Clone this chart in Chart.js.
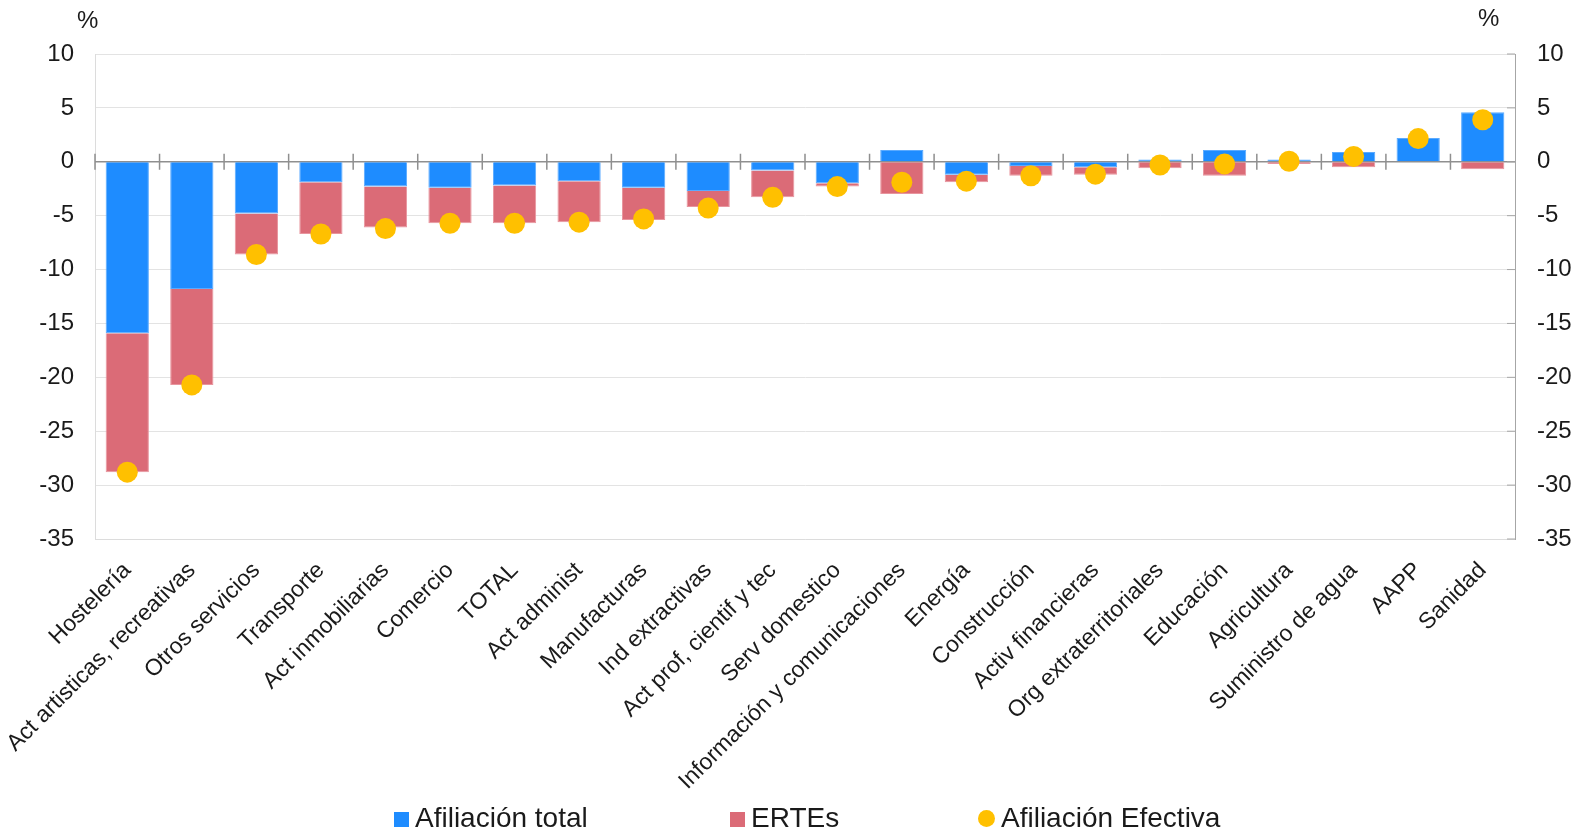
<!DOCTYPE html>
<html>
<head>
<meta charset="utf-8">
<script src="https://cdn.jsdelivr.net/npm/chart.js@4.4.1/dist/chart.umd.min.js"></script>
<style>
  html, body { margin: 0; padding: 0; background: #fff; }
  #wrap { position: relative; width: 1585px; height: 836px; font-family: "Liberation Sans", Arial, sans-serif; color: #1a1a1a; }
  .unit { position: absolute; font-size: 24px; top: 6px; }
  .leg { position: absolute; top: 801px; font-size: 28px; line-height: 34px; white-space: nowrap; }
  .leg i { display: inline-block; width: 15px; height: 15px; margin-right: 6px; vertical-align: 0px; }
</style>
</head>
<body>
<div id="wrap">
  <canvas id="c"></canvas>
  <div class="unit" style="left:77px">%</div>
  <div class="unit" style="left:1478px;top:4px">%</div>
  <div class="leg" style="left:394px"><i style="background:#1e8cff"></i>Afiliación total</div>
  <div class="leg" style="left:730px"><i style="background:#db6b77"></i>ERTEs</div>
  <div class="leg" style="left:978px"><i style="background:#ffc000;border-radius:50%;width:17px;height:17px"></i>Afiliación Efectiva</div>
</div>
<script>
// Afiliación por sectores: variación (%), con y sin ERTEs
const sectores = [
  'Hostelería', 'Act artisticas, recreativas', 'Otros servicios', 'Transporte',
  'Act inmobiliarias', 'Comercio', 'TOTAL', 'Act administ', 'Manufacturas',
  'Ind extractivas', 'Act prof, cientif y tec', 'Serv domestico',
  'Información y comunicaciones', 'Energía', 'Construcción', 'Activ financieras',
  'Org extraterritoriales', 'Educación', 'Agricultura', 'Suministro de agua',
  'AAPP', 'Sanidad'
];
const afiliacionTotal = [-15.9, -11.8, -4.8, -1.9, -2.3, -2.4, -2.2, -1.8, -2.4, -2.7, -0.8, -2.0,
  1.1, -1.2, -0.4, -0.5, 0.2, 1.1, 0.2, 0.9, 2.2, 4.6];
const ertes = [-12.9, -8.9, -3.8, -4.8, -3.8, -3.3, -3.5, -3.8, -3.0, -1.5, -2.5, -0.3,
  -3.0, -0.7, -0.9, -0.7, -0.6, -1.3, -0.2, -0.5, 0, -0.7];
const afiliacionEfectiva = [-28.8, -20.7, -8.6, -6.7, -6.2, -5.7, -5.7, -5.6, -5.3, -4.3, -3.3, -2.3,
  -1.9, -1.8, -1.3, -1.15, -0.3, -0.2, 0.05, 0.5, 2.15, 3.9];

const Y_MIN = -35, Y_MAX = 10, Y_STEP = 5;

// zero line with short ticks between categories, plus inward ticks on the right axis
const zeroLine = {
  id: 'zeroLine',
  beforeDatasetsDraw(chart) {
    const { ctx, chartArea, scales: { x, y } } = chart;
    const y0 = y.getPixelForValue(0);
    const half = (x.getPixelForValue(1) - x.getPixelForValue(0)) / 2;
    ctx.save();
    ctx.strokeStyle = '#8f8f8f';
    ctx.lineWidth = 1.5;
    ctx.beginPath();
    ctx.moveTo(chartArea.left, y0);
    ctx.lineTo(chartArea.right, y0);
    for (let i = 0; i < sectores.length; i++) {
      const px = x.getPixelForValue(i) - half;
      ctx.moveTo(px, y0 - 8);
      ctx.lineTo(px, y0 + 8);
    }
    ctx.stroke();
    ctx.lineWidth = 1;
    ctx.strokeStyle = '#a6a6a6';
    ctx.beginPath();
    for (let v = Y_MIN; v <= Y_MAX; v += Y_STEP) {
      const py = y.getPixelForValue(v);
      ctx.moveTo(chartArea.right - 8, py);
      ctx.lineTo(chartArea.right, py);
    }
    ctx.stroke();
    ctx.restore();
  }
};

const tickFont = { family: '"Liberation Sans", Arial, sans-serif', size: 24 };

new Chart(document.getElementById('c'), {
  data: {
    labels: sectores,
    datasets: [
      {
        type: 'line',
        label: 'Afiliación Efectiva',
        data: afiliacionEfectiva,
        stack: 'dots',
        showLine: false,
        pointRadius: 10.5,
        pointHoverRadius: 10.5,
        pointBackgroundColor: '#ffc000',
        pointBorderWidth: 0,
        order: 0
      },
      {
        type: 'bar',
        label: 'Afiliación total',
        data: afiliacionTotal,
        stack: 'bars',
        backgroundColor: '#1e8cff',
        borderColor: '#5aaaff',
        borderWidth: 1,
        order: 1
      },
      {
        type: 'bar',
        label: 'ERTEs',
        data: ertes,
        stack: 'bars',
        backgroundColor: '#db6b77',
        borderColor: '#e8959e',
        borderWidth: 1,
        order: 1
      }
    ]
  },
  options: {
    responsive: true,
    maintainAspectRatio: false,
    animation: false,
    layout: { padding: { top: 54, left: 0, right: 0, bottom: 0 } },
    datasets: { bar: { categoryPercentage: 1, barPercentage: 0.67 } },
    scales: {
      x: {
        stacked: true,
        grid: { display: false },
        border: { color: '#dcdcdc' },
        ticks: {
          color: '#1a1a1a',
          font: { family: '"Liberation Sans", Arial, sans-serif', size: 23 },
          minRotation: 45, maxRotation: 45, autoSkip: false, padding: 10
        },
        afterFit(s) { s.height = 297; }
      },
      y: {
        stacked: true,
        min: Y_MIN, max: Y_MAX,
        ticks: { stepSize: Y_STEP, color: '#1a1a1a', font: tickFont, padding: 21 },
        grid: { color: '#e3e3e3', drawTicks: false },
        border: { color: '#dcdcdc' },
        afterFit(s) { s.width = 95; }
      },
      y2: {
        position: 'right',
        min: Y_MIN, max: Y_MAX,
        ticks: { stepSize: Y_STEP, color: '#1a1a1a', font: tickFont, padding: 22 },
        grid: { display: false, drawTicks: false },
        border: { color: '#a6a6a6' },
        afterFit(s) { s.width = 70; }
      }
    },
    plugins: {
      legend: { display: false },
      tooltip: { enabled: false }
    }
  },
  plugins: [zeroLine]
});
</script>
</body>
</html>
